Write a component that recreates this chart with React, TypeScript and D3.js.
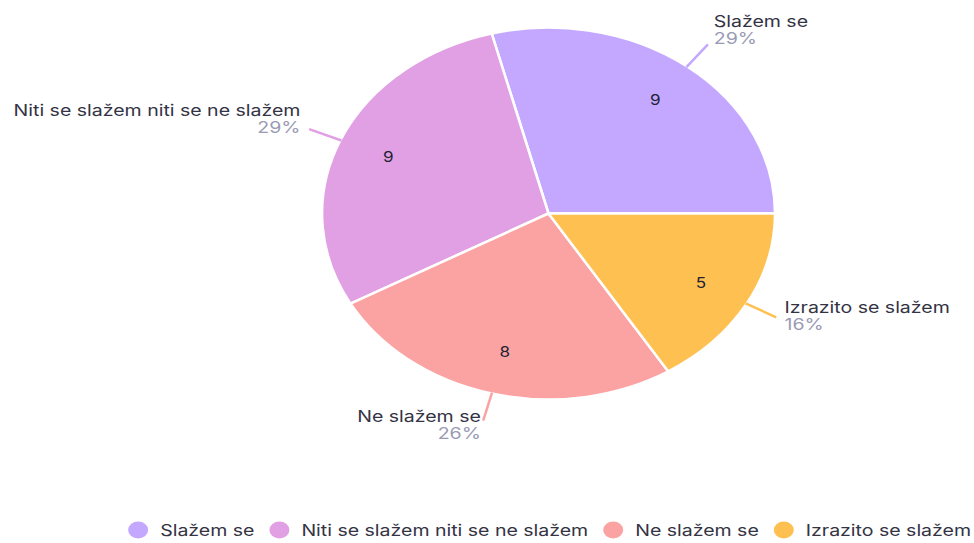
import React, { useEffect, useRef } from "react";
import * as d3 from "d3";

const categories = ["Slažem se", "Niti se slažem niti se ne slažem", "Ne slažem se", "Izrazito se slažem"];
const values = [9, 9, 8, 5];
const colors = ["#C4A8FF", "#E2A0E4", "#FBA3A3", "#FFC052"];

const W = 974;
const H = 543;
const CX = 548.5;
const CY = 213.5;
const RX = 226.5;
const RY = 186;
const STRETCH = 1.22;
const FONT = "Inter, 'Noto Sans', sans-serif";
const FS = 16;

function SText(props: {
  x: number;
  y: number;
  anchor: "start" | "end" | "middle";
  fill: string;
  size?: number;
  dy?: string;
  children: React.ReactNode;
}) {
  return (
    <g transform={`translate(${props.x},${props.y}) scale(${STRETCH},1)`}>
      <text
        x={0}
        y={0}
        dy={props.dy}
        textAnchor={props.anchor}
        fontFamily={FONT}
        fontSize={props.size ?? FS}
        fill={props.fill}
      >
        {props.children}
      </text>
    </g>
  );
}

export default function App() {
  const legendRef = useRef<SVGGElement>(null);

  const total = d3.sum(values);
  const pie = d3
    .pie<number>()
    .sort(null)
    .startAngle(Math.PI / 2)
    .endAngle(Math.PI / 2 - 2 * Math.PI);
  const arcs = pie(values);
  const arcGen = d3.arc<d3.PieArcDatum<number>>().innerRadius(0).outerRadius(1);

  useEffect(() => {
    const g = legendRef.current;
    if (!g) return;
    const sel = d3.select(g);
    sel.selectAll("*").remove();
    const rightEdge = 971;
    const items: { w: number; node: d3.Selection<SVGGElement, unknown, null, undefined> }[] = [];
    categories.forEach((c, i) => {
      const it = sel.append("g");
      it.append("ellipse").attr("cx", 0).attr("cy", 0).attr("rx", 10).attr("ry", 8.5).attr("fill", colors[i]);
      const t = it
        .append("g")
        .attr("transform", `translate(22,6) scale(${STRETCH},1)`)
        .append("text")
        .attr("font-family", FONT)
        .attr("font-size", FS)
        .attr("fill", "#333344")
        .text(c);
      const tw = (t.node() as SVGTextElement).getComputedTextLength() * STRETCH;
      items.push({ w: 22 + tw, node: it });
    });
    const gap = 25;
    const totalW = d3.sum(items, (d) => d.w) + gap * (items.length - 1) + 10;
    let x = rightEdge - totalW + 10;
    items.forEach((d) => {
      d.node.attr("transform", `translate(${x},530)`);
      x += d.w + gap;
    });
  }, []);

  return (
    <div style={{ position: "absolute", left: 0, top: 0, width: W, height: H, background: "#fff" }}>
      <svg width={W} height={H} style={{ display: "block" }}>
        <g transform={`translate(${CX},${CY}) scale(${RX},${RY})`}>
          {arcs.map((a, i) => (
            <path
              key={i}
              d={arcGen(a) || ""}
              fill={colors[i]}
              stroke="#fff"
              strokeWidth={2.5}
              vectorEffect="non-scaling-stroke"
              strokeLinejoin="round"
            />
          ))}
        </g>
        {arcs.map((a, i) => {
          const mid = (a.startAngle + a.endAngle) / 2;
          const s = Math.sin(mid);
          const c = -Math.cos(mid);
          const x0 = CX + s * RX * 0.995;
          const y0 = CY + c * RY * 0.995;
          const k = 1.15;
          const x1 = CX + s * RX * k;
          const y1 = CY + c * RY * k;
          const right = s > 0;
          const tx = x1 + (right ? 1 : -1) * Math.max(1, 9.5 * Math.abs(s));
          const nameY = y1 - 9.3 + 10.6 * c;
          const pct = Math.round((values[i] / total) * 100) + "%";
          const cxl = CX + s * RX * 0.77;
          const cyl = CY + c * RY * 0.77;
          return (
            <g key={i}>
              <line x1={x0} y1={y0} x2={x1} y2={y1} stroke={colors[i]} strokeWidth={2.5} />
              <SText x={tx} y={nameY} anchor={right ? "start" : "end"} fill="#333344">
                {categories[i]}
              </SText>
              <SText x={tx} y={nameY + 17} anchor={right ? "start" : "end"} fill="#9a9ab4">
                {pct}
              </SText>
              <SText x={cxl} y={cyl} dy="0.35em" anchor="middle" fill="#222233" size={14}>
                {values[i]}
              </SText>
            </g>
          );
        })}
        <g ref={legendRef} />
      </svg>
    </div>
  );
}
